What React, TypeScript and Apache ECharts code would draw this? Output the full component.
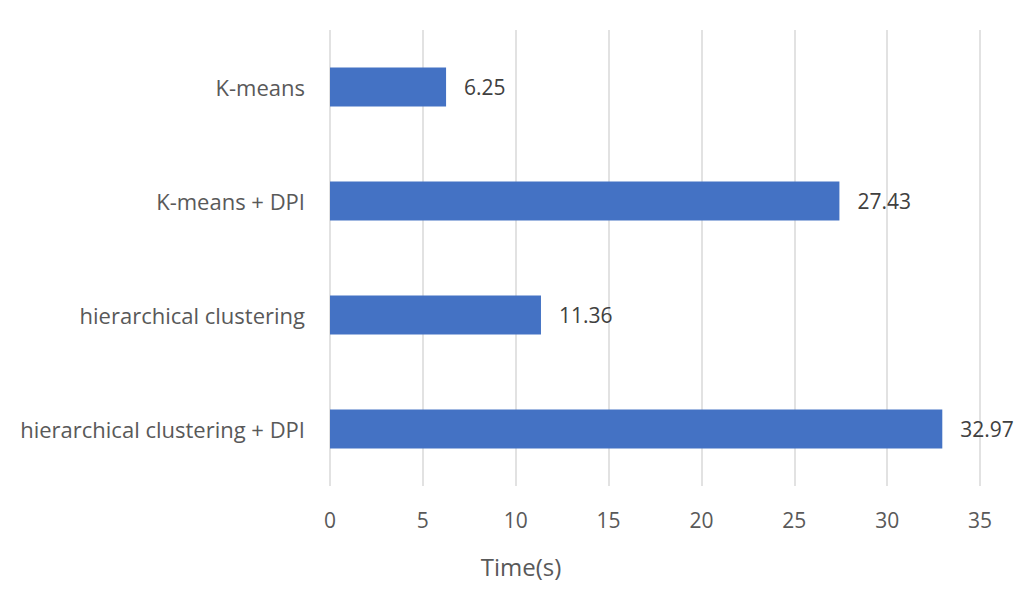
import React, { useEffect, useRef } from "react";
import * as echarts from "echarts";

const categories = ["K-means", "K-means + DPI", "hierarchical clustering", "hierarchical clustering + DPI"];
const times = [6.25, 27.43, 11.36, 32.97];
const axisTitle = "Time(s)";

export default function App() {
  const ref = useRef<HTMLDivElement>(null);
  useEffect(() => {
    const chart = echarts.init(ref.current!, null, { renderer: "svg" });
    const font = "'Open Sans', sans-serif";
    chart.setOption({
      animation: false,
      backgroundColor: "#ffffff",
      grid: { left: 330, right: 44, top: 30, bottom: 127, containLabel: false },
      xAxis: {
        type: "value",
        min: 0,
        max: 35,
        interval: 5,
        axisLine: { show: false },
        axisTick: { show: false },
        axisLabel: { color: "#595959", fontSize: 21, fontFamily: font, margin: 23 },
        splitLine: { show: true, lineStyle: { color: "#d9d9d9", width: 1.5 } },
      },
      yAxis: {
        type: "category",
        data: categories,
        inverse: true,
        axisLine: { show: false },
        axisTick: { show: false },
        axisLabel: { color: "#595959", fontSize: 22, fontFamily: font, margin: 25 },
        splitLine: { show: false },
      },
      series: [
        {
          type: "bar",
          data: times,
          barWidth: 39,
          itemStyle: { color: "#4472C4" },
          label: {
            show: true,
            position: "right",
            distance: 18,
            color: "#404040",
            fontSize: 21,
            fontFamily: font,
            formatter: (p: any) => p.value.toFixed(2),
          },
        },
      ],
      graphic: [
        {
          type: "text",
          x: 521,
          y: 566,
          style: {
            text: axisTitle,
            fill: "#595959",
            fontSize: 24,
            fontFamily: font,
            align: "center",
            verticalAlign: "middle",
          },
        },
      ],
    });
    return () => chart.dispose();
  }, []);
  return <div ref={ref} style={{ width: 1024, height: 613, margin: -8 }} />;
}
